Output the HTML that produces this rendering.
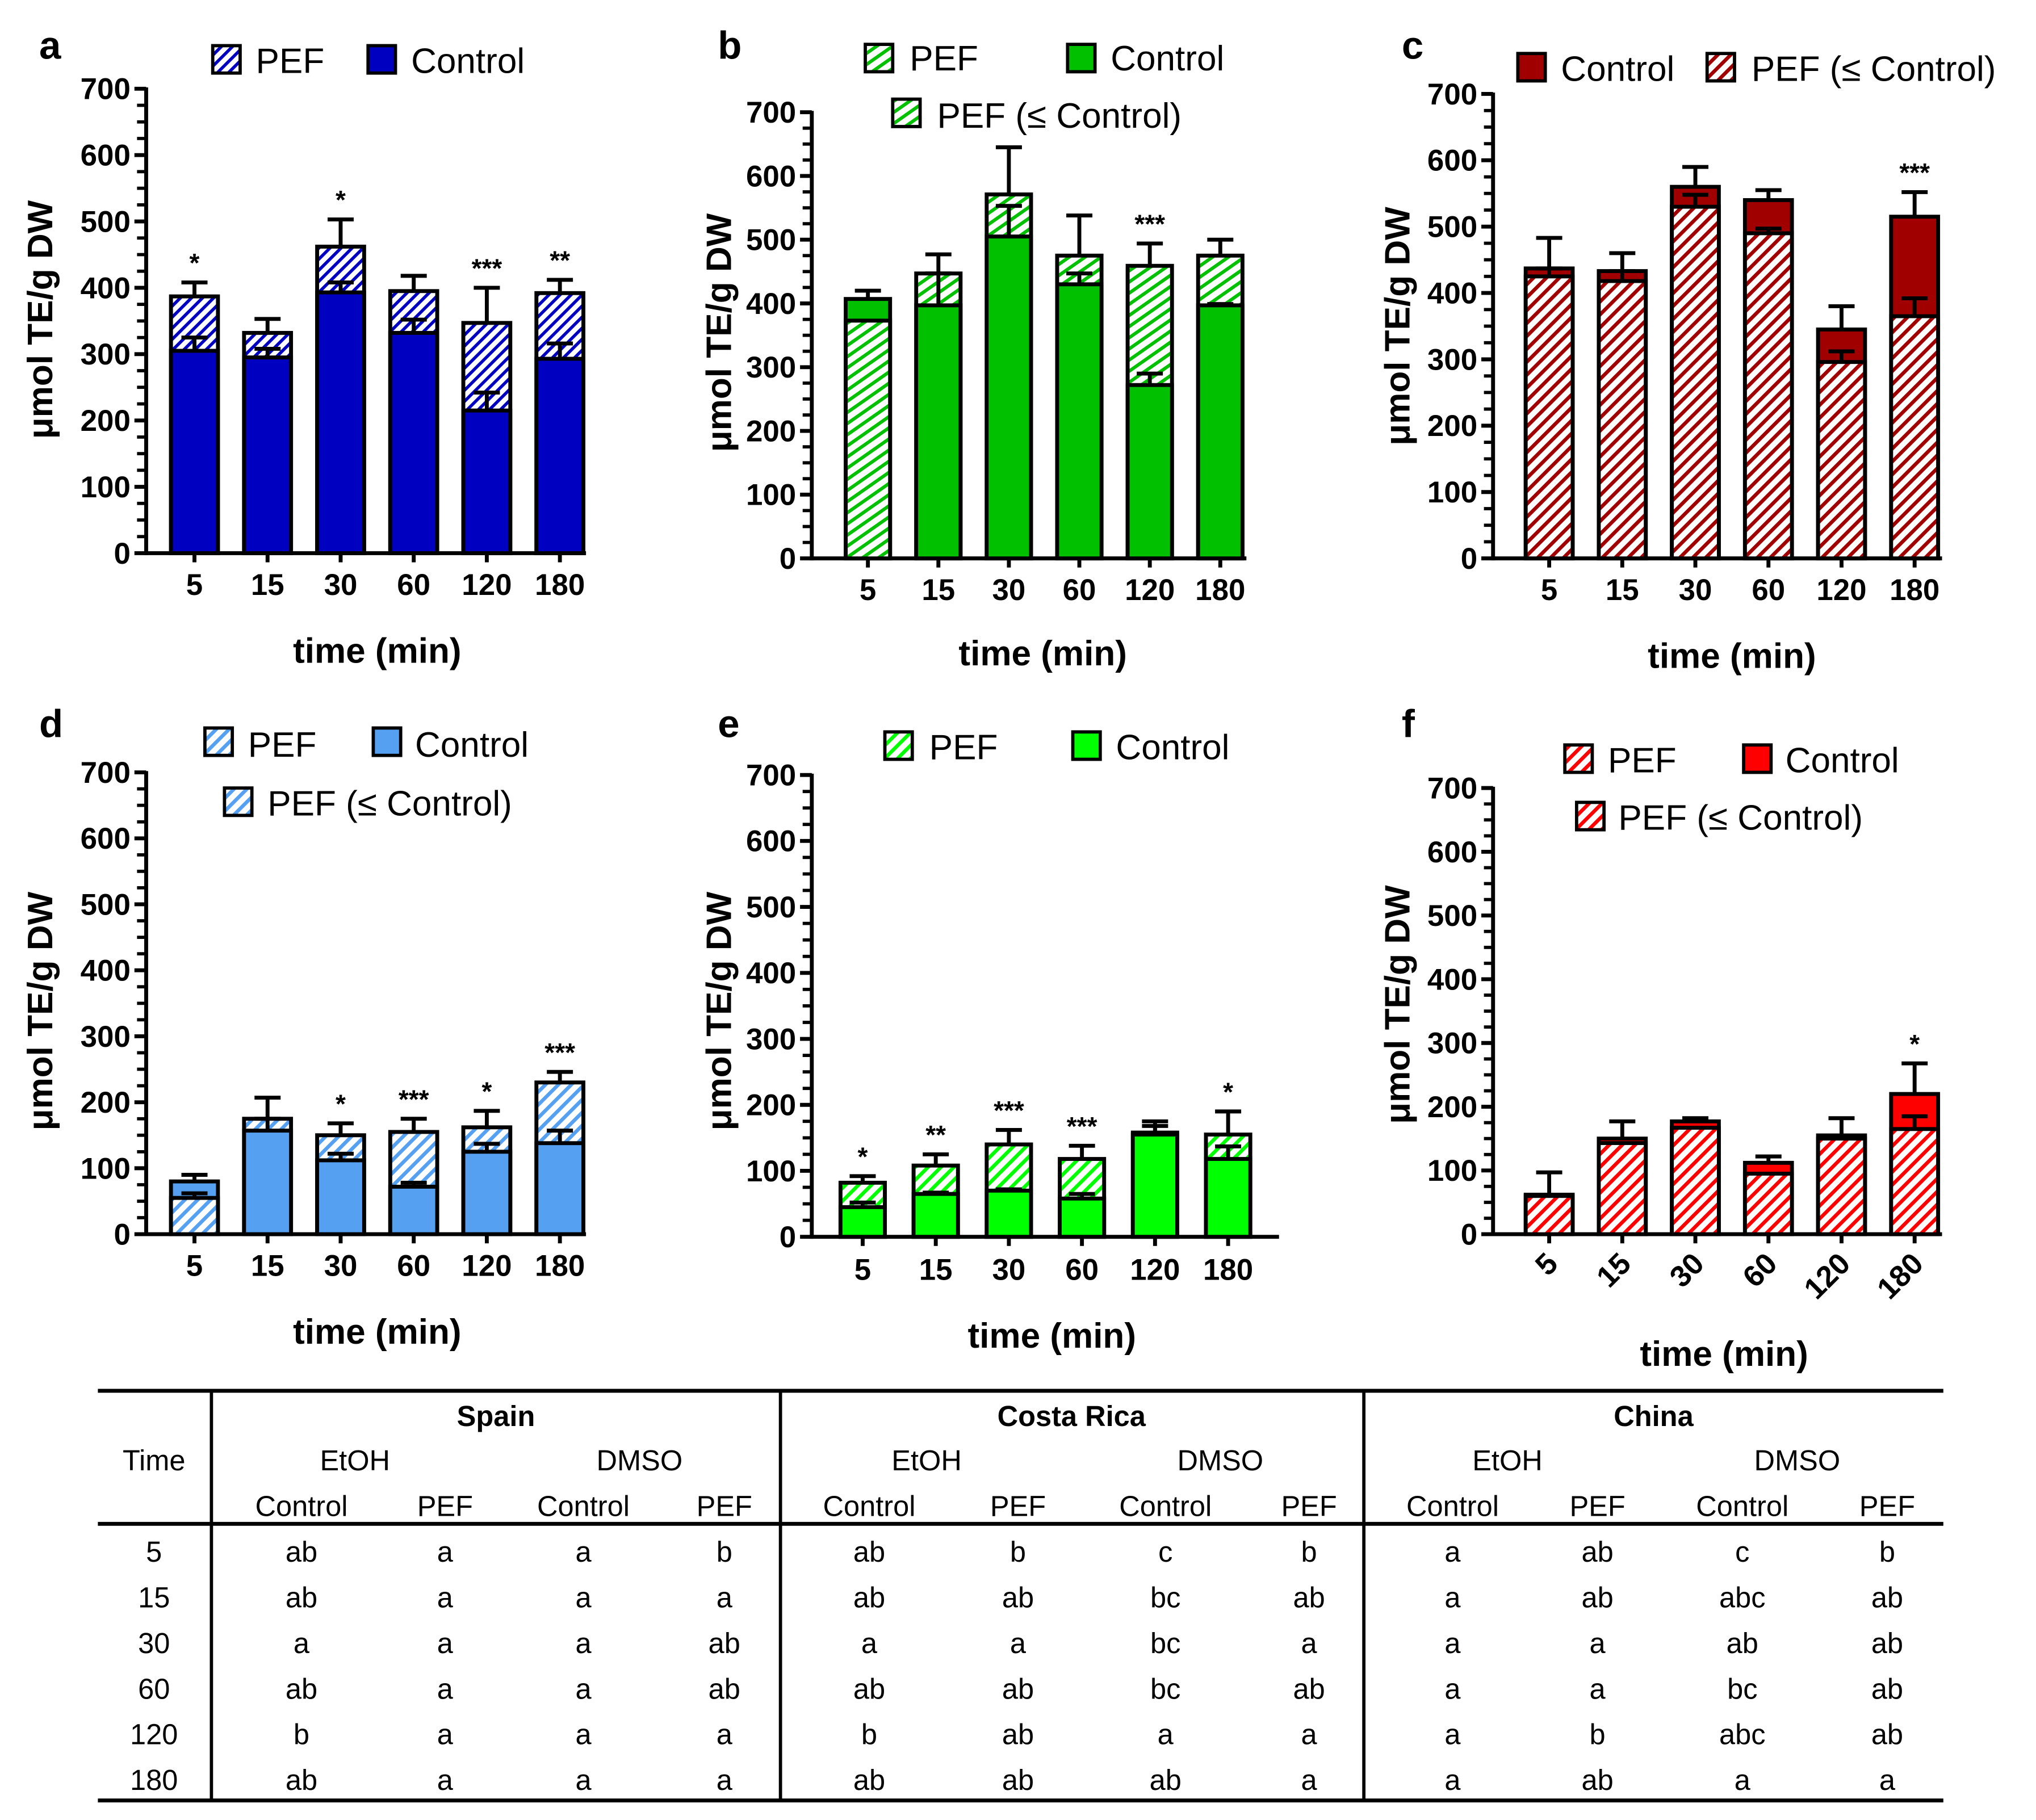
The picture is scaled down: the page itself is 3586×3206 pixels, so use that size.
<!DOCTYPE html>
<html><head><meta charset="utf-8"><style>
html,body{margin:0;padding:0;background:#fff}
svg{display:block}
text{font-family:"Liberation Sans",sans-serif}
</style></head><body>
<svg id="fig" width="3586" height="3206" viewBox="0 0 1560 1395" preserveAspectRatio="none" xmlns="http://www.w3.org/2000/svg">
<defs>
<pattern id="h-a" patternUnits="userSpaceOnUse" width="6" height="6" patternTransform="rotate(45)"><rect width="6" height="6" fill="#fff"/><rect width="2.4" height="6" fill="#0000c0"/></pattern>
<pattern id="h-b" patternUnits="userSpaceOnUse" width="7" height="7" patternTransform="rotate(55)"><rect width="7" height="7" fill="#fff"/><rect width="2.6" height="7" fill="#00c000"/></pattern>
<pattern id="h-c" patternUnits="userSpaceOnUse" width="7" height="7" patternTransform="rotate(45)"><rect width="7" height="7" fill="#fff"/><rect width="2.8" height="7" fill="#a00000"/></pattern>
<pattern id="h-d" patternUnits="userSpaceOnUse" width="7" height="7" patternTransform="rotate(45)"><rect width="7" height="7" fill="#fff"/><rect width="2.8" height="7" fill="#55a0f0"/></pattern>
<pattern id="h-e" patternUnits="userSpaceOnUse" width="7" height="7" patternTransform="rotate(45)"><rect width="7" height="7" fill="#fff"/><rect width="2.8" height="7" fill="#00ff00"/></pattern>
<pattern id="h-f" patternUnits="userSpaceOnUse" width="7" height="7" patternTransform="rotate(45)"><rect width="7" height="7" fill="#fff"/><rect width="2.8" height="7" fill="#ff0000"/></pattern>
</defs>
<g id="charts"></g>
<g id="table"></g>
</svg>
<script>
const NS="http://www.w3.org/2000/svg";
const categories=["5","15","30","60","120","180"];
// panel a (Spain EtOH)
const aCtrl=[305,295,393,332,215,293];
const aCtrlErr=[325,308,408,352,242,316];
const aPef=[387,332,462,395,347,392];
const aPefErr=[408,353,503,418,400,412];
const aStars=["*","","*","","***","**"];
// panel b (Costa Rica EtOH)
const bCtrl=[407,397,505,430,272,397];
const bCtrlErr=[420,447,553,447,290,399];
const bPef=[373,447,571,475,459,475];
const bPefErr=[373,477,645,538,494,500];
const bStars=["","","","","***",""];
// panel c (China EtOH)
const cCtrl=[437,433,560,540,345,515];
const cCtrlErr=[483,460,590,555,380,552];
const cPef=[425,418,530,490,296,365];
const cPefErr=[437,433,548,497,312,392];
const cStars=["","","","","","***"];
// panel d (Spain DMSO)
const dCtrl=[80,157,112,72,125,138];
const dCtrlErr=[90,175,122,78,137,157];
const dPef=[55,175,150,155,162,230];
const dPefErr=[62,207,168,175,187,246];
const dStars=["","","*","***","*","***"];
// panel e (Costa Rica DMSO)
const eCtrl=[45,65,70,58,155,118];
const eCtrlErr=[52,67,72,65,168,137];
const ePef=[82,108,140,118,158,155];
const ePefErr=[92,125,162,138,175,190];
const eStars=["*","**","***","***","","*"];
// panel f (China DMSO)
const fCtrl=[62,150,177,112,155,220];
const fCtrlErr=[97,177,182,122,182,268];
const fPef=[60,143,167,95,150,165];
const fPefErr=[60,143,167,95,150,185];
const fStars=["","","","","","*"];
const yTicks=[0,100,200,300,400,500,600,700];

function el(tag,attrs,parent,txt){const e=document.createElementNS(NS,tag);for(const k in attrs)e.setAttribute(k,attrs[k]);if(txt!==undefined)e.textContent=txt;parent.appendChild(e);return e;}

const panels=[
 {id:"a",ctrl:aCtrl,ce:aCtrlErr,pef:aPef,pe:aPefErr,stars:aStars,ax:112,y0:424,y7:68,x1:449,bx:[149,205,261,317,373,429],bw:36,col:"#0000c0",hat:"url(#h-a)",lab:[30,45],xl:448,xt:[289,508],yt:[40,245],rot:false,
  leg:[[163,35,"h","PEF",196,56],[282,35,"s","Control",315,56]]},
 {id:"b",ctrl:bCtrl,ce:bCtrlErr,pef:bPef,pe:bPefErr,stars:bStars,ax:622,y0:428,y7:86,x1:955,bx:[665,719,773,827,881,935],bw:34,col:"#00c000",hat:"url(#h-b)",lab:[550,45],xl:452,xt:[799,510],yt:[560,255],rot:false,
  leg:[[663,34,"h","PEF",697,54],[818,34,"s","Control",851,54],[684,76,"h","PEF (\u2264 Control)",718,98]]},
 {id:"c",ctrl:cCtrl,ce:cCtrlErr,pef:cPef,pe:cPefErr,stars:cStars,ax:1144,y0:428,y7:72,x1:1488,bx:[1187,1243,1299,1355,1411,1467],bw:36,col:"#a00000",hat:"url(#h-c)",lab:[1074,45],xl:452,xt:[1327,512],yt:[1080,250],rot:false,
  leg:[[1163,41,"s","Control",1196,62],[1308,41,"h","PEF (\u2264 Control)",1342,62]]},
 {id:"d",ctrl:dCtrl,ce:dCtrlErr,pef:dPef,pe:dPefErr,stars:dStars,ax:112,y0:946,y7:592,x1:449,bx:[149,205,261,317,373,429],bw:36,col:"#55a0f0",hat:"url(#h-d)",lab:[30,565],xl:970,xt:[289,1030],yt:[40,775],rot:false,
  leg:[[157,558,"h","PEF",190,580],[286,558,"s","Control",318,580],[172,604,"h","PEF (\u2264 Control)",205,625]]},
 {id:"e",ctrl:eCtrl,ce:eCtrlErr,pef:ePef,pe:ePefErr,stars:eStars,ax:622,y0:948,y7:594,x1:980,bx:[661,717,773,829,885,941],bw:34,col:"#00ff00",hat:"url(#h-e)",lab:[550,565],xl:973,xt:[806,1033],yt:[560,775],rot:false,
  leg:[[678,561,"h","PEF",712,582],[822,561,"s","Control",855,582]]},
 {id:"f",ctrl:fCtrl,ce:fCtrlErr,pef:fPef,pe:fPefErr,stars:fStars,ax:1144,y0:946,y7:604,x1:1488,bx:[1187,1243,1299,1355,1411,1467],bw:36,col:"#ff0000",hat:"url(#h-f)",lab:[1074,565],xl:970,xt:[1321,1047],yt:[1080,770],rot:true,
  leg:[[1199,571,"h","PEF",1232,592],[1336,571,"s","Control",1368,592],[1208,615,"h","PEF (\u2264 Control)",1240,636]]}
];

const root=document.getElementById("charts");
panels.forEach(p=>{
  const g=el("g",{},root);
  
  
  const Y=v=>p.y0-(v/700)*(p.y0-p.y7);
  const lt=el("text",{x:p.lab[0],y:p.lab[1],"font-size":30,"font-weight":"bold"},g,p.id);
  
  
  p.leg.forEach(L=>{
    const sw=el("rect",{x:L[0],y:L[1],width:21,height:21,fill:L[2]=="h"?p.hat:p.col,stroke:"#000","stroke-width":2.5},g);
    
    
    const t=el("text",{x:L[4],y:L[5],"font-size":27},g,L[3]);
    
    
  });
  const ya=el("g",{},g);
  
  
  el("line",{x1:p.ax,y1:p.y0+1.5,x2:p.ax,y2:p.y7-1,stroke:"#000","stroke-width":3},ya);
  for(let v=0;v<=700;v+=25){const major=v%100==0;el("line",{x1:p.ax-(major?9:7),y1:Y(v),x2:p.ax,y2:Y(v),stroke:"#000","stroke-width":major?3:2.5},ya);}
  yTicks.forEach(v=>{const t=el("text",{x:p.ax-12,y:Y(v)+8,"font-size":23,"font-weight":"bold","text-anchor":"end"},ya,String(v));
    
    });
  const yt=el("text",{x:p.yt[0],y:p.yt[1],"font-size":27,"font-weight":"bold","text-anchor":"middle",transform:`rotate(-90 ${p.yt[0]} ${p.yt[1]})`},g,"\u03bcmol TE/g DW");
  
  
  const xa=el("g",{},g);
  
  
  el("line",{x1:p.ax,y1:p.y0,x2:p.x1,y2:p.y0,stroke:"#000","stroke-width":3},xa);
  const xt=el("text",{x:p.xt[0],y:p.xt[1],"font-size":27,"font-weight":"bold","text-anchor":"middle"},g,"time (min)");
  
  
  categories.forEach((c,i)=>{
    const cx=p.bx[i],w=p.bw,x=cx-w/2;
    el("line",{x1:cx,y1:p.y0,x2:cx,y2:p.y0+7,stroke:"#000","stroke-width":3},xa);
    let t;
    if(p.rot){t=el("text",{x:cx+8,y:p.xl,"font-size":23,"font-weight":"bold","text-anchor":"end",transform:`rotate(-45 ${cx+8} ${p.xl})`},xa,c);}
    else t=el("text",{x:cx,y:p.xl+8,"font-size":23,"font-weight":"bold","text-anchor":"middle"},xa,c);
    
    
    const ctrl=p.ctrl[i],pef=p.pef[i];
    const bars=[];
    if(pef>ctrl){bars.push(["pef",pef,p.hat],["control",ctrl,p.col]);}
    else{bars.push(["control",ctrl,p.col],["pef",pef,p.hat]);}
    bars.forEach(b=>{
      const r=el("rect",{x:x,y:Y(b[1]),width:w,height:p.y0-Y(b[1]),fill:b[2],stroke:"#000","stroke-width":3},g);
      
      
    });
    [[ctrl,p.ce[i]],[pef,p.pe[i]]].forEach(E=>{
      if(E[1]>E[0]+0.5){
        const eg=el("g",{},g);
        
        
        el("line",{x1:cx,y1:Y(E[0]),x2:cx,y2:Y(E[1]),stroke:"#000","stroke-width":3},eg);
        el("line",{x1:cx-10,y1:Y(E[1]),x2:cx+10,y2:Y(E[1]),stroke:"#000","stroke-width":3},eg);
      }
    });
    if(p.stars[i]){
      const top=Math.max(p.ce[i],p.pe[i],ctrl,pef);
      const s=el("text",{x:cx,y:Y(top)-8,"font-size":20,"font-weight":"bold","text-anchor":"middle"},g,p.stars[i]);
      
      
    }
  });
});

const tableRows=[
 ["5","ab","a","a","b","ab","b","c","b","a","ab","c","b"],
 ["15","ab","a","a","a","ab","ab","bc","ab","a","ab","abc","ab"],
 ["30","a","a","a","ab","a","a","bc","a","a","a","ab","ab"],
 ["60","ab","a","a","ab","ab","ab","bc","ab","a","a","bc","ab"],
 ["120","b","a","a","a","b","ab","a","a","a","b","abc","ab"],
 ["180","ab","a","a","a","ab","ab","ab","a","a","ab","a","a"]];
const colX=[118,231,341,447,555,666,780,893,1003,1113,1224,1335,1446];
const tg=document.getElementById("table");
function tl(x1,y1,x2,y2,w){el("line",{x1,y1,x2,y2,stroke:"#000","stroke-width":w},tg);}
tl(75,1066,1489,1066,3);tl(75,1168,1489,1168,3);tl(75,1380,1489,1380,3);
[162,598,1045].forEach(x=>tl(x,1066,x,1380,2.5));
function tt(x,y,s,bold,name){const t=el("text",{x,y,"font-size":22,"text-anchor":"middle","font-weight":bold?"bold":"normal"},tg,s);
 
 }
tt(380,1093,"Spain",true,"country-header");tt(821,1093,"Costa Rica",true,"country-header");tt(1267,1093,"China",true,"country-header");
tt(118,1127,"Time",false,"time-header");
[[272,"EtOH"],[490,"DMSO"],[710,"EtOH"],[935,"DMSO"],[1155,"EtOH"],[1377,"DMSO"]].forEach(a=>tt(a[0],1127,a[1],false,"solvent-header"));
for(let i=1;i<13;i++)tt(colX[i],1162,(i%2)?"Control":"PEF",false,"treatment-header");
tableRows.forEach((r,ri)=>r.forEach((v,ci)=>tt(colX[ci],1197+ri*35,v,false,ci==0?"time-cell":"letter-cell")));
</script>
</body></html>
